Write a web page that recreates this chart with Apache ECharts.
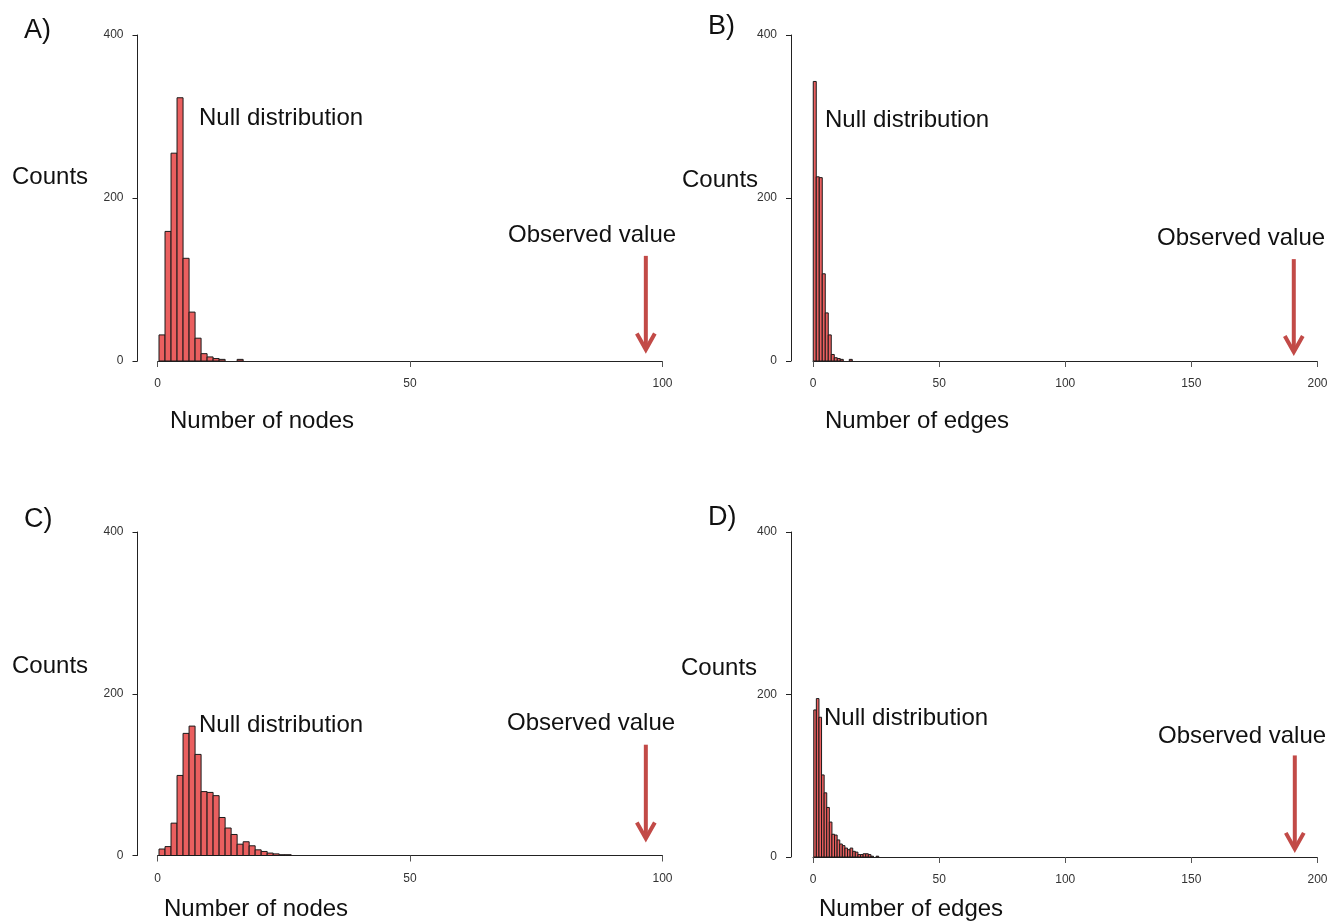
<!DOCTYPE html>
<html><head><meta charset="utf-8">
<script src="https://cdn.jsdelivr.net/npm/echarts@6/dist/echarts.min.js"></script>
<style>html,body{margin:0;padding:0;background:#fff}#c{width:1339px;height:921px}</style>
</head><body><div id="c"></div>
<script>
// ---- data ----
const countsA = [32,159,255,323,126,60,28,9,5,3,2,0,0,2];
const countsB = [343,226,225,107,59,32,8,4,3,2,0,0,2];
const countsC = [8,11,40,99,151,160,125,79,78,74,47,34,26,14,17,12,7,5,3,2,1,1];
const countsD = [181,195,172,101,79,61,43,28,27,21,16,14,11,9,11,7,6,3,3,4,4,3,1,0,1];
const binWidthA = 1.19, binWidthB = 1.19, binWidthC = 1.19, binWidthD = 1.03;
const binStartA = 0.3, binStartB = 0.1, binStartC = 0.3, binStartD = 0.3;
const observedA = [96.7, 129, 14], observedB = [190.6, 125, 11], observedC = [96.7, 137, 21], observedD = [191, 125, 10];
const yTicks = [0, 200, 400];
const xMaxNodes = 100, xMaxEdges = 200;

const FONT = "'Liberation Sans', Arial, Helvetica, sans-serif";
const BAR_FILL = '#ea5f5f', BAR_STROKE = '#1a1a1a', ARROW = '#c24a47';

function bins(counts, start, w) {
  const out = [];
  counts.forEach((c, i) => { if (c > 0) out.push([start + i * w, start + (i + 1) * w, c]); });
  return out;
}
function histItem(params, api) {
  const p0 = api.coord([api.value(0), 0]);
  const p1 = api.coord([api.value(1), api.value(2)]);
  return {type:'rect', shape:{x:p0[0], y:p1[1], width:p1[0]-p0[0], height:p0[1]-p1[1]},
    style:{fill:BAR_FILL, stroke:BAR_STROKE, lineWidth:1}};
}
function arrowItem(params, api) {
  const a = api.coord([api.value(0), api.value(1)]);
  const b = api.coord([api.value(0), api.value(2)]);
  return {type:'group', children:[
    {type:'line', shape:{x1:a[0], y1:a[1], x2:b[0], y2:b[1]-2}, style:{stroke:ARROW, lineWidth:4}},
    {type:'polyline', shape:{points:[[b[0]-9, b[1]-16],[b[0], b[1]],[b[0]+9, b[1]-16]]}, style:{stroke:ARROW, lineWidth:4, fill:null}}
  ]};
}

const grids = [
  {left:157.5, top:35, width:505, height:326},
  {left:813, top:35, width:504.5, height:326},
  {left:157.5, top:532, width:505, height:323.5},
  {left:813, top:532, width:504.5, height:325}
];
const yOffsets = [20, 22, 20, 22];
const xMaxes = [xMaxNodes, xMaxEdges, xMaxNodes, xMaxEdges];

const axisLabelStyle = {fontFamily: FONT, fontSize: 12, color: '#333'};
const xAxes = xMaxes.map((mx, i) => ({
  type:'value', gridIndex:i, min:0, max:mx, interval:50,
  axisLine:{show:true, onZero:false, lineStyle:{color:'#222', width:1}},
  axisTick:{show:true, length:6, lineStyle:{color:'#555'}},
  axisLabel:Object.assign({margin:17}, axisLabelStyle),
  splitLine:{show:false}
}));
const yAxes = grids.map((g, i) => ({
  type:'value', gridIndex:i, min:yTicks[0], max:yTicks[2], interval:yTicks[1]-yTicks[0], offset:yOffsets[i],
  axisLine:{show:true, onZero:false, lineStyle:{color:'#222', width:1}},
  axisTick:{show:true, length:5, lineStyle:{color:'#222'}},
  axisLabel:Object.assign({margin:14}, axisLabelStyle),
  splitLine:{show:false}
}));

const histData = [bins(countsA, binStartA, binWidthA), bins(countsB, binStartB, binWidthB),
                  bins(countsC, binStartC, binWidthC), bins(countsD, binStartD, binWidthD)];
const obs = [observedA, observedB, observedC, observedD];
const series = [];
histData.forEach((d, i) => {
  series.push({type:'custom', xAxisIndex:i, yAxisIndex:i, data:d, renderItem:histItem, silent:true, animation:false});
  series.push({type:'custom', xAxisIndex:i, yAxisIndex:i, data:[obs[i]], renderItem:arrowItem, silent:true, animation:false, clip:false});
});

function txt(s, x, y, size) {
  return {type:'text', x:x, y:y, silent:true,
    style:{text:s, fontFamily:FONT, fontSize:size, fill:'#111', align:'left', verticalAlign:'middle', textAlign:'left', textVerticalAlign:'middle'}};
}
const graphics = [
  txt('A)', 24, 31, 27), txt('B)', 708, 27, 27), txt('C)', 24, 520, 27), txt('D)', 708, 518, 27),
  txt('Counts', 12, 177, 24), txt('Counts', 682, 180, 24), txt('Counts', 12, 666, 24), txt('Counts', 681, 668, 24),
  txt('Null distribution', 199, 118, 24), txt('Null distribution', 825, 120, 24),
  txt('Null distribution', 199, 725, 24), txt('Null distribution', 824, 718, 24),
  txt('Observed value', 508, 235, 24), txt('Observed value', 1157, 238, 24),
  txt('Observed value', 507, 723, 24), txt('Observed value', 1158, 736, 24),
  txt('Number of nodes', 170, 421, 24), txt('Number of edges', 825, 421, 24),
  txt('Number of nodes', 164, 909, 24), txt('Number of edges', 819, 909, 24)
];

const chart = echarts.init(document.getElementById('c'), null, {renderer:'canvas'});
chart.setOption({
  backgroundColor:'#fff', animation:false,
  grid:grids, xAxis:xAxes, yAxis:yAxes, series:series, graphic:graphics
});
</script></body></html>
